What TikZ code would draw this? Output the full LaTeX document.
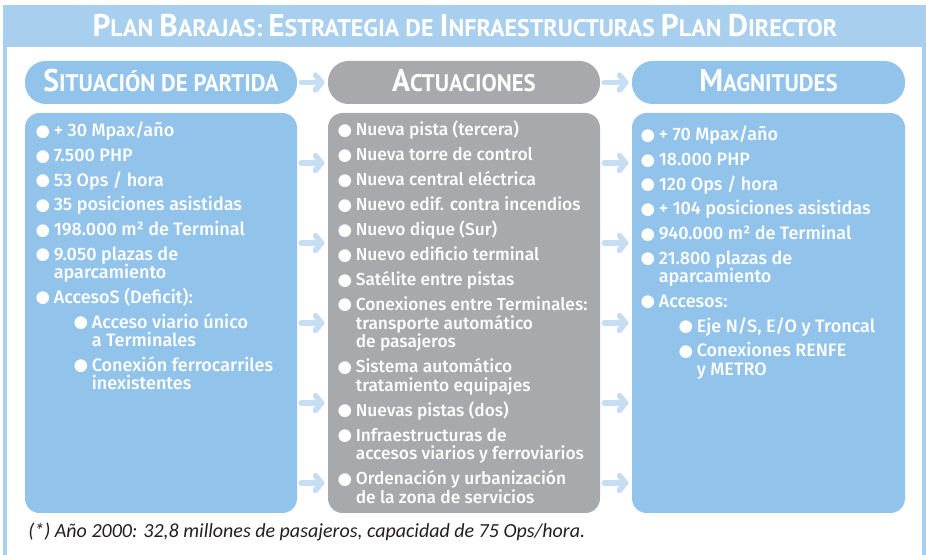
\documentclass[tikz,border=0pt]{standalone}
\usepackage{fontspec}
\usepackage{graphicx}
\setmainfont{Fira Sans}
\newfontfamily\bodyfont{Fira Sans Medium}
\newfontfamily\headfont{PT Sans}
\newfontfamily\notefont{Carlito}
\newfontfamily\dotfont{DejaVu Sans}
\usetikzlibrary{arrows.meta,fit}

\definecolor{bandblue}{HTML}{A9CFEF}
\definecolor{boxblue}{HTML}{92C3EA}
\definecolor{boxgray}{HTML}{A7A9AC}
\definecolor{flowblue}{HTML}{C6DEF4}
\definecolor{notegray}{HTML}{231F20}

% hand made small caps: big first letter, rest in the node size
\newcommand{\sccap}[2]{{\fontsize{23.5}{24}\selectfont #1}#2}
% list lines: bullet item, continuation, sub item, sub continuation
\newcommand{\bul}{\makebox[12.4pt][l]{\hspace*{-1.2pt}\raisebox{0.4pt}{\dotfont\fontsize{12.5}{12.5}\selectfont ●}}}
\newcommand{\nob}{\hspace*{12.4pt}}
\newcommand{\subi}{\hspace*{28.5pt}}
\newcommand{\itm}[1]{\smash{\bul #1}}
\newcommand{\cnt}[1]{\smash{\nob #1}}
\newcommand{\sitm}[1]{\smash{\subi\bul #1}}
\newcommand{\scnt}[1]{\smash{\subi\nob #1}}

\tikzset{
	band/.style={fill=bandblue},
	pill/.style={fill=#1, rounded corners=15.5pt, inner sep=0pt},
	headtext/.style={inner sep=0pt, text=white, font=\headfont\bfseries\fontsize{18}{18}\selectfont,
		text height=14.2pt, text depth=0pt},
	panel/.style={fill=#1, rounded corners=11pt, inner sep=0pt},
	list/.style={anchor=base west, inner sep=0pt, text=white,
		font=\bodyfont\fontsize{13.5}{13.9}\selectfont},
	flow/.style={draw=flowblue, line width=4.3pt, line cap=round,
		-{Straight Barb[length=4.5pt, width=11pt, round]}, shorten <=3pt, shorten >=2.5pt},
	note/.style={anchor=base west, inner sep=0pt, text=notegray,
		font=\notefont\itshape\fontsize{15}{16}\selectfont},
}

\begin{document}
\begin{tikzpicture}[x=0.75pt,y=0.75pt,yscale=-1,xscale=1]
\useasboundingbox (0,0) rectangle (926,555);

% frame and title band
\fill[band] (3,5) rectangle (926,47);
\fill[band] (3,47) rectangle (7,555);
\fill[band] (922,47) rectangle (926,555);
\node[headtext, text height=16.5pt] (title) at (465,26)
	{\sccap{P}{LAN} \sccap{B}{ARAJAS:} \sccap{E}{STRATEGIA} DE \sccap{I}{NFRAESTRUCTURAS} \sccap{P}{LAN} \sccap{D}{IRECTOR}};

% headers
\node[pill=boxblue, fit={(25,61) (297,104)}] (hsit) {};
\node[pill=boxgray, fit={(328,61) (600,104)}] (hact) {};
\node[pill=boxblue, fit={(632,61) (905,104)}] (hmag) {};
\node[headtext] (lsit) at (hsit.center) {\scalebox{0.95}[1]{\sccap{S}{ITUACIÓN DE PARTIDA}}};
\node[headtext] (lact) at (hact.center) {\scalebox{0.95}[1]{\sccap{A}{CTUACIONES}}};
\node[headtext] (lmag) at (hmag.center) {\scalebox{0.95}[1]{\sccap{M}{AGNITUDES}}};

% panels
\node[panel=boxblue, fit={(25,113) (297,513)}] (sit) {};
\node[panel=boxgray, fit={(328,113) (600,513)}] (act) {};
\node[panel=boxblue, fit={(632,113) (905,513)}] (mag) {};

% arrows
\draw[flow] (hsit.east) -- (hact.west);
\draw[flow] (hact.east) -- (hmag.west);
\foreach \y in {163,243,323,403,483} {
	\draw[flow] (sit.east |- 0,\y) -- (act.west |- 0,\y);
	\draw[flow] (act.east |- 0,\y) -- (mag.west |- 0,\y);
}

% lists
\node[list] (sitlist) at (37,137) {\begin{tabular}[t]{@{}l@{}}
	\itm{+ 30 Mpax/año}\\[4.6pt]
	\itm{7.500 PHP}\\[4.6pt]
	\itm{53 Ops / hora}\\[4.6pt]
	\itm{35 posiciones asistidas}\\[4.6pt]
	\itm{198.000 m² de Terminal}\\[4.6pt]
	\itm{9.050 plazas de}\\
	\cnt{aparcamiento}\\[4.6pt]
	\itm{AccesoS (Deficit):}\\[4.6pt]
	\sitm{Acceso viario único}\\
	\scnt{a Terminales}\\[4.6pt]
	\sitm{Conexión ferrocarriles}\\
	\scnt{inexistentes}
\end{tabular}};

\node[list, font=\bodyfont\fontsize{13}{14}\selectfont] (actlist) at (339,136) {\begin{tabular}[t]{@{}l@{}}
	\itm{Nueva pista (tercera)}\\[4.7pt]
	\itm{Nueva torre de control}\\[4.7pt]
	\itm{Nueva central eléctrica}\\[4.7pt]
	\itm{Nuevo edif. contra incendios}\\[4.7pt]
	\itm{Nuevo dique (Sur)}\\[4.7pt]
	\itm{Nuevo edificio terminal}\\[4.7pt]
	\itm{Satélite entre pistas}\\[4.7pt]
	\itm{Conexiones entre Terminales:}\\
	\cnt{transporte automático}\\
	\cnt{de pasajeros}\\[4.7pt]
	\itm{Sistema automático}\\
	\cnt{tratamiento equipajes}\\[4.7pt]
	\itm{Nuevas pistas (dos)}\\[4.7pt]
	\itm{Infraestructuras de}\\
	\cnt{accesos viarios y ferroviarios}\\[4.7pt]
	\itm{Ordenación y urbanización}\\
	\cnt{de la zona de servicios}
\end{tabular}};

\node[list] (maglist) at (642,141) {\begin{tabular}[t]{@{}l@{}}
	\itm{+ 70 Mpax/año}\\[4.6pt]
	\itm{18.000 PHP}\\[4.6pt]
	\itm{120 Ops / hora}\\[4.6pt]
	\itm{+ 104 posiciones asistidas}\\[4.6pt]
	\itm{940.000 m² de Terminal}\\[4.6pt]
	\itm{21.800 plazas de}\\
	\cnt{aparcamiento}\\[4.6pt]
	\itm{Accesos:}\\[4.6pt]
	\sitm{Eje N/S, E/O y Troncal}\\[4.6pt]
	\sitm{Conexiones RENFE}\\
	\scnt{y METRO}
\end{tabular}};

% footnote
\node[note] (note) at (28,538) {(*) Año 2000: 32,8 millones de pasajeros, capacidad de 75 Ops/hora.};

\end{tikzpicture}
\end{document}
